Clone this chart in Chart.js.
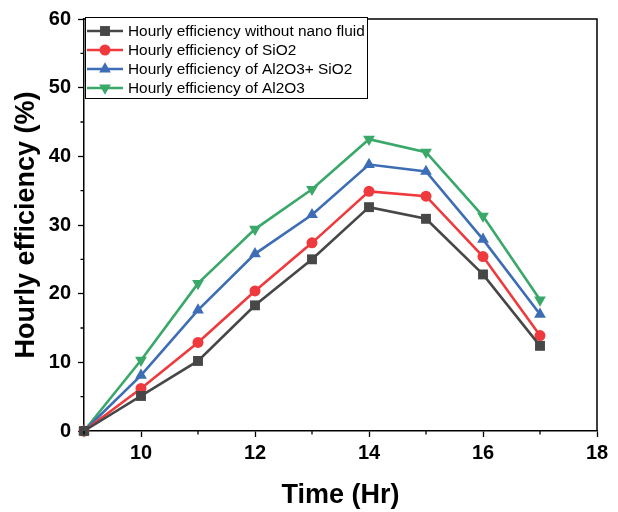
<!DOCTYPE html>
<html>
<head>
<meta charset="utf-8">
<script src="https://cdn.jsdelivr.net/npm/chart.js@4.4.1/dist/chart.umd.min.js"></script>
<style>
  html, body { margin: 0; padding: 0; background: #fff; }
  #wrap { width: 618px; height: 512px; }
</style>
</head>
<body>
<div id="wrap"><canvas id="myChart" width="618" height="512"></canvas></div>
<script>
// time of day (hours)
const hours = [9, 10, 11, 12, 13, 14, 15, 16, 17];
const noNano = [0, 5.1, 10.2, 18.3, 25.0, 32.6, 30.9, 22.8, 12.4];
const sio2 = [0, 6.2, 12.9, 20.4, 27.4, 34.9, 34.2, 25.4, 13.9];
const al2o3Sio2 = [0, 8.1, 17.6, 25.8, 31.5, 38.8, 37.8, 27.9, 17.0];
const al2o3 = [0, 10.3, 21.5, 29.4, 35.2, 42.5, 40.6, 31.3, 19.1];
const xTicks = [10, 12, 14, 16, 18];
const xMinor = [9, 11, 13, 15, 17];
const yMinor = [5, 15, 25, 35, 45, 55];

const labels = [
    'Hourly efficiency without nano fluid',
    'Hourly efficiency of SiO2',
    'Hourly efficiency of Al2O3+ SiO2',
    'Hourly efficiency of Al2O3'
];

const FONT = 'Arial, "Liberation Sans", sans-serif';

function pts(arr) {
    return hours.map(function(h, i) { return { x: h, y: arr[i] }; });
}

function series(label, arr, color, style, radius, rotation) {
    return {
        label: label,
        data: pts(arr),
        borderColor: color,
        backgroundColor: color,
        borderWidth: 2.6,
        pointStyle: style,
        pointRadius: radius,
        pointRotation: rotation || 0,
        pointBorderWidth: 0,
        pointBackgroundColor: color,
        clip: false
    };
}

// box frame, minor ticks, legend inside the plot
const framePlugin = {
    id: 'frame',
    afterDraw: function(chart) {
        const ctx = chart.ctx;
        const a = chart.chartArea;
        const xs = chart.scales.x, ys = chart.scales.y;
        ctx.save();
        ctx.strokeStyle = '#000';
        ctx.lineWidth = 1.5;
        ctx.beginPath();
        ctx.moveTo(a.left, a.top);
        ctx.lineTo(a.right, a.top);
        ctx.lineTo(a.right, a.bottom);
        ctx.stroke();
        ctx.lineWidth = 1.3;
        ctx.beginPath();
        xMinor.forEach(function(v) {
            const px = xs.getPixelForValue(v);
            ctx.moveTo(px, a.bottom);
            ctx.lineTo(px, a.bottom + 3.5);
        });
        yMinor.forEach(function(v) {
            const py = ys.getPixelForValue(v);
            ctx.moveTo(a.left, py);
            ctx.lineTo(a.left - 3.5, py);
        });
        ctx.stroke();

        // legend
        const lx = 85, ly = 17, lw = 282, lh = 81;
        ctx.fillStyle = '#fff';
        ctx.fillRect(lx, ly, lw, lh);
        ctx.strokeStyle = '#000';
        ctx.lineWidth = 1;
        ctx.strokeRect(lx + 0.5, ly + 0.5, lw, lh);
        ctx.font = '15.4px ' + FONT;
        ctx.textBaseline = 'middle';
        chart.data.datasets.forEach(function(ds, i) {
            const cy = 31 + i * 19;
            ctx.strokeStyle = ds.borderColor;
            ctx.lineWidth = 2.6;
            ctx.beginPath();
            ctx.moveTo(87, cy);
            ctx.lineTo(123, cy);
            ctx.stroke();
            ctx.fillStyle = ds.borderColor;
            Chart.helpers.drawPoint(ctx, {
                pointStyle: ds.pointStyle,
                radius: ds.pointRadius,
                rotation: ds.pointRotation,
                borderWidth: 0
            }, 105, cy);
            ctx.fillStyle = '#000';
            ctx.fillText(ds.label, 128, cy + 1);
        });
        ctx.restore();
    }
};

const ctx = document.getElementById('myChart').getContext('2d');
new Chart(ctx, {
    type: 'line',
    data: {
        datasets: [
            series(labels[0], noNano, '#474747', 'rect', 7),
            series(labels[1], sio2, '#ef3a3d', 'circle', 5.5),
            series(labels[2], al2o3Sio2, '#3d6db5', 'triangle', 6.8),
            series(labels[3], al2o3, '#39a868', 'triangle', 6.8, 180)
        ]
    },
    options: {
        responsive: false,
        animation: false,
        layout: { padding: { top: 17, right: 21, left: 0, bottom: 0 } },
        scales: {
            x: {
                type: 'linear',
                min: 9,
                max: 18,
                afterBuildTicks: function(axis) {
                    axis.ticks = xTicks.map(function(v) { return { value: v }; });
                },
                afterFit: function(axis) { axis.height = 81; },
                border: { display: true, color: '#000', width: 1.5 },
                grid: { drawOnChartArea: false, drawTicks: true, tickLength: 6, color: '#000', tickWidth: 1.3 },
                ticks: {
                    color: '#000',
                    padding: 4,
                    maxRotation: 0,
                    font: { family: FONT, size: 20, weight: 'bold' }
                },
                title: {
                    display: true,
                    text: 'Time (Hr)',
                    color: '#000',
                    padding: { top: 4, bottom: 0 },
                    font: { family: FONT, size: 27, weight: 'bold' }
                }
            },
            y: {
                min: 0,
                max: 60,
                ticks: {
                    stepSize: 10,
                    color: '#000',
                    padding: 7,
                    font: { family: FONT, size: 20, weight: 'bold' }
                },
                afterFit: function(axis) { axis.width = 84; },
                border: { display: true, color: '#000', width: 1.5 },
                grid: { drawOnChartArea: false, drawTicks: true, tickLength: 6, color: '#000', tickWidth: 1.3 },
                title: {
                    display: true,
                    text: 'Hourly efficiency (%)',
                    color: '#000',
                    padding: { top: 10 },
                    font: { family: FONT, size: 27, weight: 'bold' }
                }
            }
        },
        plugins: {
            legend: { display: false },
            tooltip: { enabled: false }
        }
    },
    plugins: [framePlugin]
});
</script>
</body>
</html>
